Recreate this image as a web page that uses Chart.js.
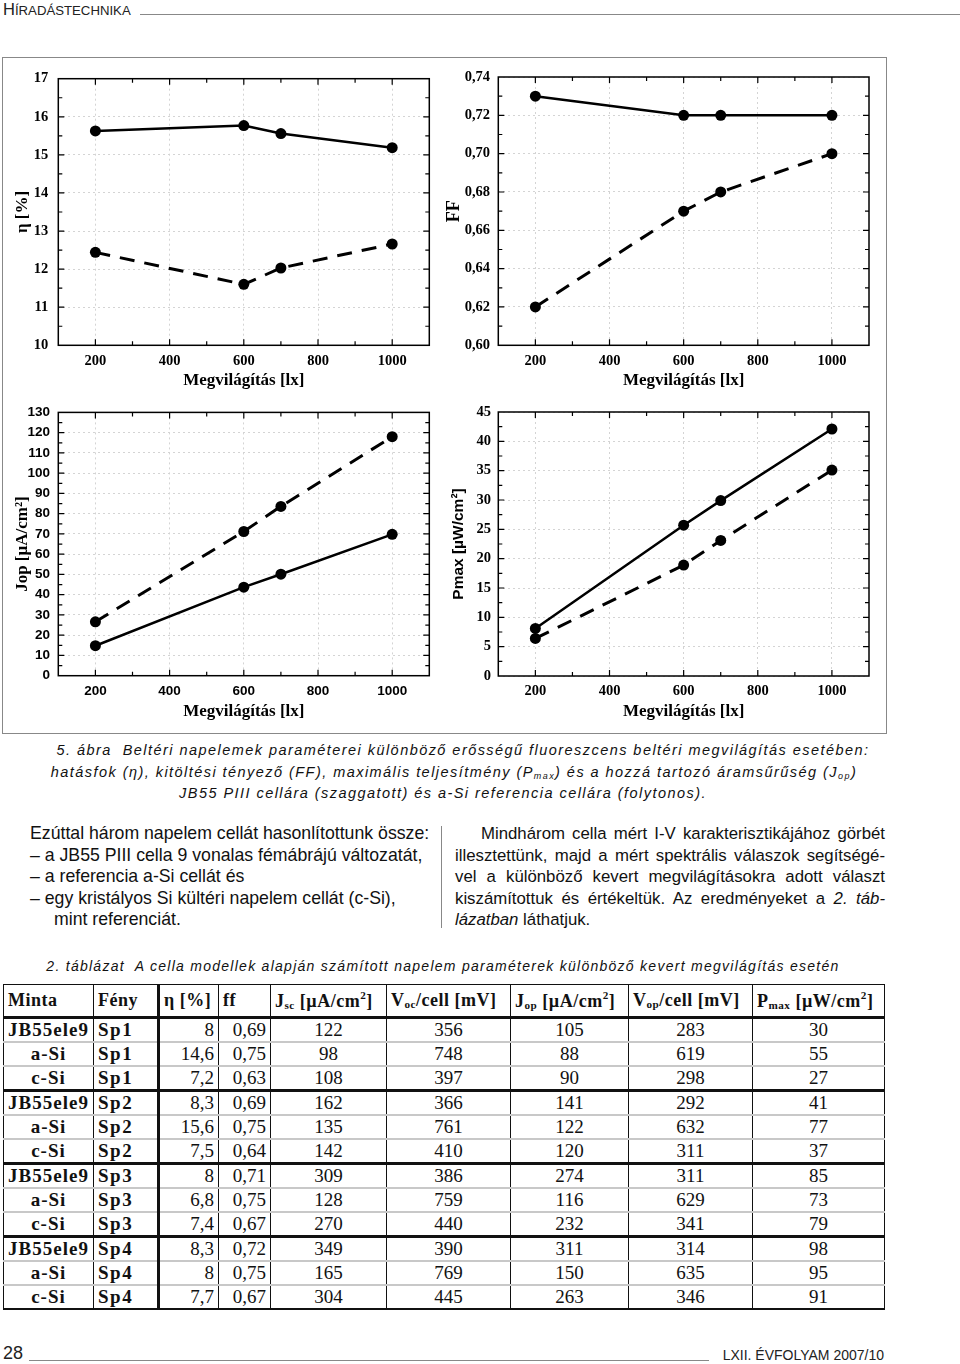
<!DOCTYPE html>
<html>
<head>
<meta charset="utf-8">
<script src="https://cdn.jsdelivr.net/npm/chart.js@4.4.0/dist/chart.umd.min.js"></script>
<style>
  body { margin: 0; width: 960px; height: 1364px; position: relative; overflow: hidden; background: #fff; font-family: "Liberation Sans", Arial, sans-serif; color: #111; }
  .abs { position: absolute; }
  .cap { font-style: italic; font-size: 14.5px; letter-spacing: 1.45px; white-space: nowrap; text-align: center; }
  .body { font-size: 17.7px; line-height: 21.5px; white-space: nowrap; }
  .jl { display: block; text-align: justify; text-align-last: justify; word-spacing: -1px; }
  #tbl { border-collapse: collapse; table-layout: fixed; width: 881px; font-family: "Liberation Serif", "Times New Roman", serif; color: #111; }
  #tbl td, #tbl th { padding: 0 4px; border-left: 1px solid #111; border-right: 1px solid #111; white-space: nowrap; overflow: hidden; }
  #tbl th { height: 31px; font-size: 18px; font-weight: bold; text-align: left; border-top: 1px solid #111; border-bottom: 3px solid #111; letter-spacing: 0.5px; }
  #tbl td { height: 22px; font-size: 19px; border-bottom: 2px solid #c8c8c8; }
  #tbl tr.grp td { border-bottom: 3px solid #111; }
  #tbl tr:last-child td { border-bottom: 2px solid #111; }
  #tbl td.nm { font-weight: bold; text-align: center; letter-spacing: 1px; }
  #tbl td.fe { font-weight: bold; text-align: left; letter-spacing: 1.5px; }
  #tbl td.r { text-align: right; }
  #tbl td.c { text-align: center; }
  #tbl .thick { border-right: 3px solid #111; }
  sub { font-size: 62%; vertical-align: -2px; }
  sup { font-size: 62%; vertical-align: 8px; }
</style>
</head>
<body>

<!-- page header -->
<div class="abs" style="left:3px;top:0px;font-family:'Liberation Sans Narrow','Liberation Sans';white-space:nowrap;color:#222;">
  <span style="font-size:16.5px">H</span><span style="font-size:13.2px">ÍRADÁSTECHNIKA</span>
</div>
<div class="abs" style="left:140px;top:14px;width:820px;height:0;border-top:1.5px solid #888;"></div>

<!-- figure frame -->
<div class="abs" style="left:2px;top:57px;width:883px;height:675px;border:1px solid #888;"></div>

<div class="abs" style="left:5px;top:60px;width:435px;height:335px;"><canvas id="cEta"></canvas></div>
<div class="abs" style="left:442px;top:60px;width:440px;height:335px;"><canvas id="cFF"></canvas></div>
<div class="abs" style="left:5px;top:396px;width:435px;height:334px;"><canvas id="cJop"></canvas></div>
<div class="abs" style="left:442px;top:396px;width:440px;height:334px;"><canvas id="cPmax"></canvas></div>

<!-- figure caption -->
<div class="abs cap" style="left:0;top:742px;width:926px;">5. ábra&nbsp; Beltéri napelemek paraméterei különböző erősségű fluoreszcens beltéri megvilágítás esetében:</div>
<div class="abs cap" style="left:0;top:764px;width:908px;">hatásfok (η), kitöltési tényező (FF), maximális teljesítmény (P<sub>max</sub>) és a hozzá tartozó áramsűrűség (J<sub>op</sub>)</div>
<div class="abs cap" style="left:0;top:785px;width:886px;">JB55 PIII cellára (szaggatott) és a-Si referencia cellára (folytonos).</div>

<!-- body text, left column -->
<div class="abs body" style="left:30px;top:823px;">
  Ezúttal három napelem cellát hasonlítottunk össze:<br>
  – a JB55 PIII cella 9 vonalas fémábrájú változatát,<br>
  – a referencia a-Si cellát és<br>
  – egy kristályos Si kültéri napelem cellát (c-Si),<br>
  <span style="padding-left:24px">mint referenciát.</span>
</div>
<div class="abs" style="left:441px;top:826px;width:0;height:102px;border-left:1px solid #888;"></div>
<!-- body text, right column -->
<div class="abs body" style="left:455px;top:823px;width:430px;white-space:normal;font-size:16.8px;">
  <span class="jl" style="padding-left:26px">Mindhárom cella mért I-V karakterisztikájához görbét</span>
  <span class="jl">illesztettünk, majd a mért spektrális válaszok segítségé-</span>
  <span class="jl">vel a különböző kevert megvilágításokra adott választ</span>
  <span class="jl">kiszámítottuk és értékeltük. Az eredményeket a <i>2. táb-</i></span>
  <span style="display:block"><i>lázatban</i> láthatjuk.</span>
</div>

<!-- table caption -->
<div class="abs cap" style="left:0;top:958px;width:886px;font-size:14px;letter-spacing:1.27px;">2. táblázat&nbsp; A cella modellek alapján számított napelem paraméterek különböző kevert megvilágítás esetén</div>

<table id="tbl" class="abs" style="left:3px;top:984px;">
  <colgroup>
    <col style="width:90px"><col style="width:65px"><col style="width:60px"><col style="width:52px">
    <col style="width:116px"><col style="width:124px"><col style="width:118px"><col style="width:124px"><col style="width:132px">
  </colgroup>
  <thead>
    <tr>
      <th>Minta</th><th class="thick">Fény</th><th>η [%]</th><th>ff</th>
      <th>J<sub>sc</sub> [µA/cm<sup>2</sup>]</th><th>V<sub>oc</sub>/cell [mV]</th>
      <th>J<sub>op</sub> [µA/cm<sup>2</sup>]</th><th>V<sub>op</sub>/cell [mV]</th><th>P<sub>max</sub> [µW/cm<sup>2</sup>]</th>
    </tr>
  </thead>
  <tbody id="tbody"></tbody>
</table>

<!-- page footer -->
<div class="abs" style="left:3px;top:1343px;font-size:18px;font-family:'Liberation Sans Narrow','Liberation Sans';color:#222;">28</div>
<div class="abs" style="left:29px;top:1360px;width:680px;height:0;border-top:1.5px solid #888;"></div>
<div class="abs" style="left:710px;top:1347px;width:174px;text-align:right;font-size:14px;font-family:'Liberation Sans Narrow','Liberation Sans';white-space:nowrap;color:#222;">LXII. ÉVFOLYAM 2007/10</div>

<script>
// illumination levels [lx]
var illum = [200, 600, 700, 1000];
var xTicks = [200, 400, 600, 800, 1000];

// a-Si reference cell (solid) and JB55 PIII cell (dashed)
var etaRef = [15.63, 15.77, 15.56, 15.19];
var etaJB = [12.44, 11.6, 12.03, 12.66];
var etaTicks = [10, 11, 12, 13, 14, 15, 16, 17];

var ffRef = [0.73, 0.72, 0.72, 0.72];
var ffJB = [0.62, 0.67, 0.68, 0.70];
var ffTicks = [0.60, 0.62, 0.64, 0.66, 0.68, 0.70, 0.72, 0.74];

var jopRef = [14.8, 43.7, 50.1, 69.8];
var jopJB = [26.6, 71.2, 83.6, 118];
var jopTicks = [0, 10, 20, 30, 40, 50, 60, 70, 80, 90, 100, 110, 120, 130];

var pmaxRef = [8.1, 25.7, 29.9, 42.1];
var pmaxJB = [6.4, 18.9, 23.1, 35.1];
var pmaxTicks = [0, 5, 10, 15, 20, 25, 30, 35, 40, 45];

// table 2
var tableRows = [
  ["JB55ele9", "Sp1", "8", "0,69", "122", "356", "105", "283", "30"],
  ["a-Si", "Sp1", "14,6", "0,75", "98", "748", "88", "619", "55"],
  ["c-Si", "Sp1", "7,2", "0,63", "108", "397", "90", "298", "27"],
  ["JB55ele9", "Sp2", "8,3", "0,69", "162", "366", "141", "292", "41"],
  ["a-Si", "Sp2", "15,6", "0,75", "135", "761", "122", "632", "77"],
  ["c-Si", "Sp2", "7,5", "0,64", "142", "410", "120", "311", "37"],
  ["JB55ele9", "Sp3", "8", "0,71", "309", "386", "274", "311", "85"],
  ["a-Si", "Sp3", "6,8", "0,75", "128", "759", "116", "629", "73"],
  ["c-Si", "Sp3", "7,4", "0,67", "270", "440", "232", "341", "79"],
  ["JB55ele9", "Sp4", "8,3", "0,72", "349", "390", "311", "314", "98"],
  ["a-Si", "Sp4", "8", "0,75", "165", "769", "150", "635", "95"],
  ["c-Si", "Sp4", "7,7", "0,67", "304", "445", "263", "346", "91"]
];

var tb = document.getElementById('tbody');
tableRows.forEach(function(r, i) {
  var tr = document.createElement('tr');
  if (i % 3 === 2 && i < tableRows.length - 1) tr.className = 'grp';
  var cls = ['nm', 'fe thick', 'r', 'r', 'c', 'c', 'c', 'c', 'c'];
  r.forEach(function(v, j) {
    var td = document.createElement('td');
    td.className = cls[j];
    td.textContent = v;
    tr.appendChild(td);
  });
  tb.appendChild(tr);
});

// frame round the plot area with inward ticks on all four sides
var framePlugin = {
  id: 'frame',
  afterDraw: function(chart, args, opts) {
    var ctx = chart.ctx, a = chart.chartArea, x = chart.scales.x, y = chart.scales.y;
    ctx.save();
    ctx.strokeStyle = '#000';
    ctx.lineWidth = 1.5;
    ctx.strokeRect(a.left, a.top, a.right - a.left, a.bottom - a.top);
    ctx.lineWidth = 1.2;
    ctx.beginPath();
    var n = Math.round((x.max - x.min) / opts.xMinor);
    for (var i = 1; i < n; i++) {
      var v = x.min + i * opts.xMinor;
      var px = x.getPixelForValue(v);
      var len = xTicks.indexOf(v) >= 0 ? 6 : 4;
      ctx.moveTo(px, a.bottom); ctx.lineTo(px, a.bottom - len);
      ctx.moveTo(px, a.top); ctx.lineTo(px, a.top + len);
    }
    n = Math.round((y.max - y.min) / opts.yMinor);
    for (var k = 1; k < n; k++) {
      var py = y.getPixelForValue(y.min + k * opts.yMinor);
      var l2 = k % 2 === 0 ? 6 : 4;
      ctx.moveTo(a.left, py); ctx.lineTo(a.left + l2, py);
      ctx.moveTo(a.right, py); ctx.lineTo(a.right - l2, py);
    }
    ctx.stroke();
    ctx.restore();
  }
};

function makeChart(id, o) {
  var serif = 'Liberation Serif';
  var xFont = o.xTickFont || serif, yFont = o.yTickFont || serif;
  return new Chart(document.getElementById(id), {
    type: 'line',
    data: {
      datasets: [
        {
          data: illum.map(function(v, i) { return {x: v, y: o.solid[i]}; }),
          borderColor: '#000', borderWidth: 2.5, pointRadius: 5.5,
          pointBackgroundColor: '#000', pointBorderWidth: 0, tension: 0
        },
        {
          data: illum.map(function(v, i) { return {x: v, y: o.dashed[i]}; }),
          borderColor: '#000', borderWidth: 3, borderDash: [15, 10], pointRadius: 5.5,
          pointBackgroundColor: '#000', pointBorderWidth: 0, tension: 0
        }
      ]
    },
    options: {
      animation: false,
      responsive: true,
      maintainAspectRatio: false,
      layout: { padding: { top: o.pt, right: o.pr, left: 0, bottom: 0 } },
      plugins: {
        legend: { display: false },
        tooltip: { enabled: false },
        frame: { xMinor: 100, yMinor: o.yMinor }
      },
      scales: {
        x: {
          type: 'linear', min: 100, max: 1100,
          afterBuildTicks: function(s) { s.ticks = xTicks.map(function(v) { return {value: v}; }); },
          afterFit: function(s) { s.height = o.xh; },
          grid: { color: '#d4d4d4', drawTicks: false },
          border: { display: false, dash: [2, 3] },
          ticks: {
            color: '#000', padding: 7,
            font: { family: xFont, size: xFont === serif ? 14.5 : 13.5, weight: 'bold' },
            callback: function(v) { return String(v); }
          },
          title: {
            display: true, text: 'Megvilágítás [lx]', color: '#000',
            font: { family: serif, size: 17, weight: 'bold' }, padding: { top: 0, bottom: o.xtPad }
          }
        },
        y: {
          min: o.ticks[0], max: o.ticks[o.ticks.length - 1],
          afterBuildTicks: function(s) { s.ticks = o.ticks.map(function(v) { return {value: v}; }); },
          afterFit: function(s) { s.width = o.yw; },
          grid: { color: '#d4d4d4', drawTicks: false },
          border: { display: false, dash: [2, 3] },
          ticks: {
            color: '#000', padding: o.ytPadTicks,
            font: { family: yFont, size: yFont === serif ? 14.5 : 13.5, weight: 'bold' },
            callback: o.fmt || function(v) { return String(v); }
          },
          title: {
            display: true, text: o.yTitle, color: '#000',
            font: { family: o.yTitleFont || serif, size: o.yTitleSize || 17, weight: 'bold' },
            padding: { top: o.ytPad, bottom: 0 }
          }
        }
      }
    },
    plugins: [framePlugin]
  });
}

makeChart('cEta', {
  solid: etaRef, dashed: etaJB, ticks: etaTicks, yMinor: 0.5,
  yTitle: 'η [%]', yTitleSize: 17, pt: 15.7, pr: 10.7, yw: 53.3, xh: 49.7, xtPad: 4.5, ytPad: 7.5, ytPadTicks: 10
});
makeChart('cFF', {
  solid: ffRef, dashed: ffJB, ticks: ffTicks, yMinor: 0.01,
  yTitle: 'FF', yTitleSize: 18, pt: 15.7, pr: 13, yw: 56.3, xh: 49.7, xtPad: 4.5, ytPad: 1.5, ytPadTicks: 8.3,
  fmt: function(v) { return v.toFixed(2).replace('.', ','); }
});
makeChart('cJop', {
  solid: jopRef, dashed: jopJB, ticks: jopTicks, yMinor: 5,
  yTitle: 'Jop [µA/cm²]', yTitleSize: 17, pt: 13, pr: 10.7, yw: 53.3, xh: 54.3, xtPad: 8, ytPad: 7, ytPadTicks: 8.3,
  xTickFont: 'Liberation Sans', yTickFont: 'Liberation Sans'
});
makeChart('cPmax', {
  solid: pmaxRef, dashed: pmaxJB, ticks: pmaxTicks, yMinor: 2.5,
  yTitle: 'Pmax [µW/cm²]', pt: 12.3, pr: 13, yw: 56.3, xh: 54, xtPad: 8, ytPad: 7, ytPadTicks: 7.3,
  yTitleFont: 'Liberation Sans', yTitleSize: 15.5
});
</script>
</body>
</html>
